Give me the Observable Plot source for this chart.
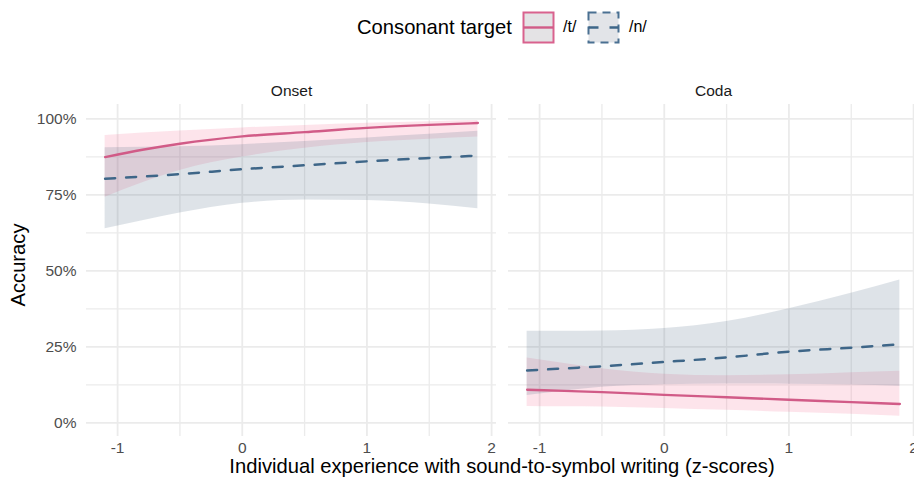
<!DOCTYPE html>
<html>
<head>
<meta charset="utf-8">
<script src="https://cdn.jsdelivr.net/npm/d3@7"></script>
<script src="https://cdn.jsdelivr.net/npm/@observablehq/plot@0.6"></script>
<style>
  html, body { margin: 0; padding: 0; background: #fff; overflow: hidden; }
  #wrap { position: relative; width: 914px; height: 477px; overflow: hidden;
          font-family: "Liberation Sans", Arial, Helvetica, sans-serif; }
  #chart { position: absolute; left: 0; top: 55px; width: 922px; }
  #chart svg { max-width: none !important; }
  .ttl { position: absolute; color: #000; font-size: 20.2px; white-space: nowrap; line-height: 1; }
  #legend-title { left: 357px; top: 17px; }
  .key { position: absolute; top: 11px; }
  .keylab { position: absolute; top: 19px; font-size: 16px; color: #000; line-height: 1; }
  #ytitle { left: 18px; top: 265px; transform: translate(-50%, -50%) rotate(-90deg); }
  #xtitle { left: 502px; top: 466px; transform: translate(-50%, -50%); }
</style>
</head>
<body>
<div id="wrap">
  <div class="ttl" id="legend-title">Consonant target</div>
  <svg class="key" style="left:522px" width="33" height="33">
    <rect x="1.5" y="1.5" width="30" height="30" fill="#e4e3e5" stroke="#d9628e" stroke-width="2"/>
    <line x1="1.5" x2="31.5" y1="16.5" y2="16.5" stroke="#d15b87" stroke-width="2.4"/>
  </svg>
  <div class="keylab" style="left:563px">/t/</div>
  <svg class="key" style="left:587px" width="33" height="33">
    <rect x="1.5" y="1.5" width="30" height="30" fill="#e2e4e8" stroke="#4a7092" stroke-width="2" stroke-dasharray="8,6"/>
    <line x1="1.5" x2="31.5" y1="16.5" y2="16.5" stroke="#3e6688" stroke-width="2.4" stroke-dasharray="10,11"/>
  </svg>
  <div class="keylab" style="left:629px">/n/</div>
  <div id="chart"></div>
  <div class="ttl" id="ytitle">Accuracy</div>
  <div class="ttl" id="xtitle">Individual experience with sound-to-symbol writing (z-scores)</div>
</div>
<script>
// Model predictions: z-scored experience on x, predicted accuracy with 95% band.
const xs = [-1.1, -0.8, -0.5, 0, 0.5, 1, 1.5, 1.89];
const positions = ["Onset", "Coda"];
const targets = ["/t/", "/n/"];

// Onset /t/
const onsetT   = [0.874, 0.898, 0.918, 0.942, 0.956, 0.970, 0.980, 0.986];
const onsetTLo = [0.742, 0.790, 0.830, 0.874, 0.903, 0.922, 0.933, 0.940];
const onsetTHi = [0.945, 0.953, 0.960, 0.970, 0.978, 0.985, 0.990, 0.994];
// Onset /n/
const onsetN   = [0.803, 0.810, 0.818, 0.834, 0.847, 0.860, 0.871, 0.879];
const onsetNLo = [0.638, 0.665, 0.690, 0.722, 0.733, 0.731, 0.720, 0.704];
const onsetNHi = [0.905, 0.906, 0.908, 0.915, 0.925, 0.937, 0.949, 0.959];
// Coda /t/
const codaT    = [0.109, 0.105, 0.101, 0.092, 0.084, 0.076, 0.068, 0.062];
const codaTLo  = [0.054, 0.053, 0.052, 0.047, 0.041, 0.035, 0.028, 0.022];
const codaTHi  = [0.213, 0.195, 0.178, 0.160, 0.155, 0.158, 0.165, 0.170];
// Coda /n/
const codaN    = [0.172, 0.179, 0.186, 0.200, 0.215, 0.234, 0.247, 0.258];
const codaNLo  = [0.090, 0.105, 0.117, 0.125, 0.128, 0.127, 0.124, 0.120];
const codaNHi  = [0.301, 0.301, 0.302, 0.310, 0.333, 0.375, 0.426, 0.470];

const xTicks = [-1, 0, 1, 2];
const xMinor = [-0.5, 0.5, 1.5];
const yTicks = [0, 0.25, 0.5, 0.75, 1];
const yMinor = [0.125, 0.375, 0.625, 0.875];

const series = [
  ["Onset", "/t/", onsetT, onsetTLo, onsetTHi],
  ["Onset", "/n/", onsetN, onsetNLo, onsetNHi],
  ["Coda",  "/t/", codaT,  codaTLo,  codaTHi],
  ["Coda",  "/n/", codaN,  codaNLo,  codaNHi]
];
const rows = series.flatMap(([position, target, fit, lo, hi]) =>
  xs.map((x, i) => ({position, target, x, fit: fit[i], lo: lo[i], hi: hi[i]})));

const tRows = rows.filter(d => d.target === "/t/");
const nRows = rows.filter(d => d.target === "/n/");

const pink = "#d15b87", blue = "#3e6688";
const grid = "#ebebeb";
const fmtX = d => (d < 0 ? "-" : "") + Math.abs(d);

const chart = Plot.plot({
  width: 922,
  height: 422,
  marginTop: 49,
  marginBottom: 41,
  marginLeft: 85.5,
  marginRight: 2.7,
  style: {fontFamily: "'Liberation Sans', Arial, Helvetica, sans-serif", background: "transparent",
          overflow: "visible", maxWidth: "none"},
  fx: {domain: positions, paddingInner: 0.0273, paddingOuter: 0},
  x: {domain: [-1.2495, 2.0395]},
  y: {domain: [-0.045, 1.047]},
  marks: [
    Plot.ruleY(yMinor, {stroke: grid, strokeWidth: 1.3}),
    Plot.ruleX(xMinor, {stroke: grid, strokeWidth: 1.3}),
    Plot.ruleY(yTicks, {stroke: grid, strokeWidth: 1.8}),
    Plot.ruleX(xTicks, {stroke: grid, strokeWidth: 1.8}),
    Plot.areaY(tRows, {fx: "position", x: "x", y1: "lo", y2: "hi", z: "target",
      fill: "#f2698f", fillOpacity: 0.18, curve: "monotone-x"}),
    Plot.areaY(nRows, {fx: "position", x: "x", y1: "lo", y2: "hi", z: "target",
      fill: "#4a6480", fillOpacity: 0.18, curve: "monotone-x"}),
    Plot.lineY(tRows, {fx: "position", x: "x", y: "fit", z: "target",
      stroke: pink, strokeWidth: 2.4, curve: "monotone-x"}),
    Plot.lineY(nRows, {fx: "position", x: "x", y: "fit", z: "target",
      stroke: blue, strokeWidth: 2.5, strokeDasharray: "10,11", curve: "monotone-x"}),
    Plot.axisFx({anchor: "top", tickSize: 0, tickPadding: 9, label: null,
      fill: "#1a1a1a", fontSize: 15.5}),
    Plot.axisX({ticks: xTicks, tickFormat: fmtX, tickSize: 0, tickPadding: 5, label: null,
      fill: "#4d4d4d", fontSize: 15.5}),
    Plot.axisY({ticks: yTicks, tickFormat: d3.format(".0%"), tickSize: 0, tickPadding: 10,
      label: null, fill: "#4d4d4d", fontSize: 15.5})
  ]
});
document.getElementById("chart").appendChild(chart);
</script>
</body>
</html>
